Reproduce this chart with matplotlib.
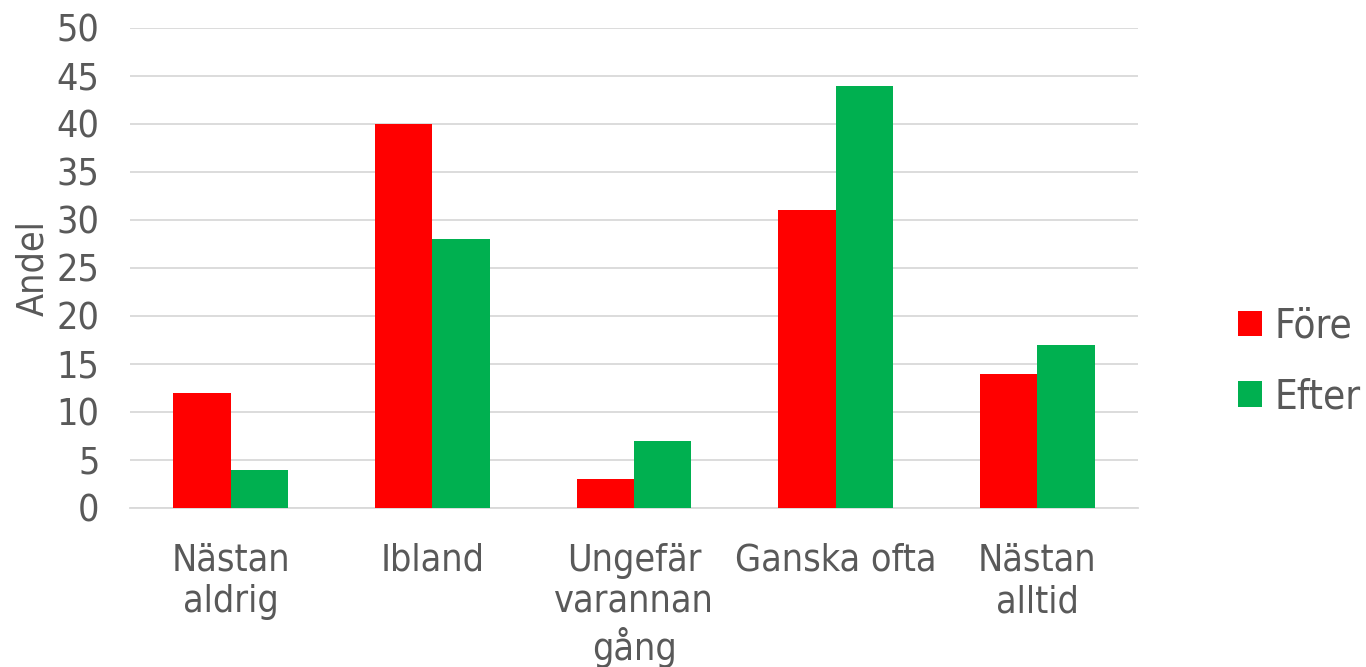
import matplotlib
matplotlib.use("Agg")
import matplotlib.pyplot as plt
import numpy as np

categories = ["Nästan\naldrig", "Ibland", "Ungefär\nvarannan\ngång", "Ganska ofta", "Nästan\nalltid"]
fore = [12, 40, 3, 31, 14]
efter = [4, 28, 7, 44, 17]
series_names = ["Före", "Efter"]
yticks = [0, 5, 10, 15, 20, 25, 30, 35, 40, 45, 50]

plt.rcParams['font.family'] = ['DejaVu Sans']
plt.rcParams['font.stretch'] = 'condensed'
txt = '#595959'
FS = 27

fig = plt.figure(figsize=(13.66, 6.67), dpi=100)
ax = fig.add_axes([130/1366, 1-508/667, (1138-130)/1366, (508-28)/667])

x = np.arange(len(categories))
w = 0.285
ax.bar(x - w/2, fore, w, color='#FF0000', label=series_names[0], zorder=3)
ax.bar(x + w/2, efter, w, color='#00B050', label=series_names[1], zorder=3)

ax.set_xlim(-0.5, len(categories) - 0.5)
ax.set_ylim(0, 50)
ax.set_yticks(yticks)
ax.set_yticklabels([str(t) for t in yticks], fontsize=FS, color=txt)
ax.set_xticks(x)
ax.set_xticklabels(categories, fontsize=FS, color=txt, linespacing=1.2)
ax.tick_params(axis='both', length=0)
ax.tick_params(axis='x', pad=25)
ax.tick_params(axis='y', pad=22)
ax.grid(axis='y', color='#D9D9D9', linewidth=1.3, zorder=0)
for s in ['top', 'right', 'left']:
    ax.spines[s].set_visible(False)
ax.spines['bottom'].set_color('#D9D9D9')
ax.spines['bottom'].set_linewidth(1.3)

ax.set_ylabel("Andel", fontsize=FS, color=txt, labelpad=4)

leg = fig.legend(loc='center left', bbox_to_anchor=(1238/1366, 1-362/667), frameon=False,
                 fontsize=29, handlelength=0.6, handleheight=0.6, handletextpad=0.3,
                 labelspacing=0.75, borderpad=0, borderaxespad=0)
for t in leg.get_texts():
    t.set_color(txt)

fig.savefig("out.png", dpi=100)
